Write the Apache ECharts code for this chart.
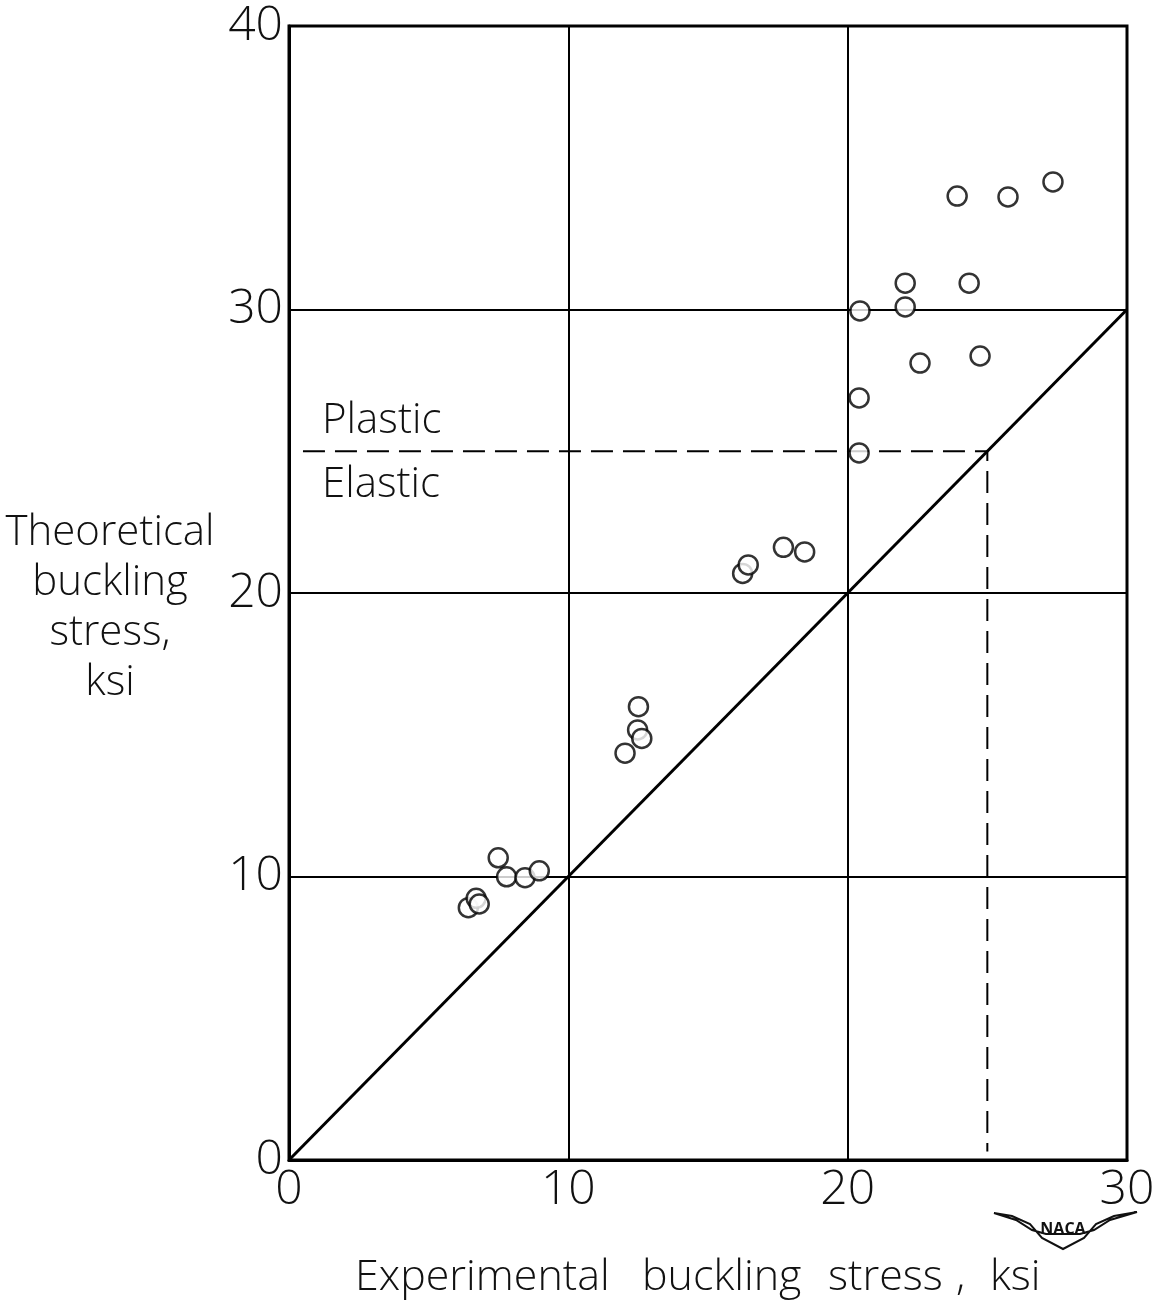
<!DOCTYPE html>
<html>
<head>
<meta charset="utf-8">
<script src="https://cdn.jsdelivr.net/npm/echarts@6/dist/echarts.min.js"></script>
<style>
  html, body { margin: 0; padding: 0; background: #fff; }
  #chart { width: 1152px; height: 1316px; }
</style>
</head>
<body>
<div id="chart"></div>
<script>
// experimental vs theoretical buckling stress, ksi
const expStress = [
  6.42, 6.70, 6.81, 7.49, 7.79, 8.45, 8.96,
  12.03, 12.48, 12.51, 12.63,
  16.24, 16.44, 17.70, 18.46,
  20.41, 20.41, 20.44, 22.06, 22.06, 22.59, 23.92, 24.35, 24.74, 25.74, 27.35
]
const theoStress = [
  8.90, 9.23, 9.03, 10.66, 9.99, 9.96, 10.20,
  14.35, 15.17, 15.99, 14.87,
  20.69, 20.99, 21.61, 21.45,
  24.94, 26.88, 29.95, 30.09, 30.93, 28.11, 34.00, 30.93, 28.36, 33.97, 34.50
]
const equalLine = [[0, 0], [30, 30]]
const limitLine = [[0.5, 25], [25, 25], [25, 0.3]]
const xTicks = [0, 10, 20, 30]
const yTicks = [0, 10, 20, 30, 40]

const font = "'Open Sans', 'DejaVu Sans', sans-serif"

const chart = echarts.init(document.getElementById('chart'))

// x title words are spaced out like the hand lettering
const xTitleWords = [['Experimental', 355], ['buckling', 642], ['stress', 828], [',', 956], ['ksi', 990]]

const option = {
  backgroundColor: '#fff',
  animation: false,
  grid: { left: 289, right: 25, top: 26, bottom: 156, outerBoundsMode: 'none', containLabel: false },
  xAxis: {
    type: 'value', min: 0, max: 30, interval: 10,
    axisLine: { show: true, lineStyle: { color: '#000', width: 3 } },
    axisTick: { show: false },
    axisLabel: {
      color: '#111', fontSize: 48, fontFamily: font, fontWeight: 300, margin: 6,
      formatter: v => xTicks.includes(v) ? String(v) : ''
    },
    splitLine: { show: true, lineStyle: { color: '#000', width: 2 } }
  },
  yAxis: {
    type: 'value', min: 0, max: 40, interval: 10,
    axisLine: { show: true, lineStyle: { color: '#000', width: 3 } },
    axisTick: { show: false },
    axisLabel: {
      color: '#111', fontSize: 48, fontFamily: font, fontWeight: 300, margin: 6,
      formatter: v => yTicks.includes(v) ? String(v) : ''
    },
    splitLine: { show: true, lineStyle: { color: '#000', width: 2 } }
  },
  graphic: [
    { type: 'rect', shape: { x: 289, y: 26, width: 838, height: 1134 },
      style: { fill: 'none', stroke: '#000', lineWidth: 3 }, z: 0 },
    { type: 'text', left: 322, top: 400,
      style: { text: 'Plastic', fontSize: 42, fontFamily: font, fontWeight: 300, fill: '#111' } },
    { type: 'text', left: 322, top: 464,
      style: { text: 'Elastic', fontSize: 42, fontFamily: font, fontWeight: 300, fill: '#111' } },
    { type: 'text', x: 110, y: 508,
      style: { text: 'Theoretical\nbuckling\nstress,\nksi', fontSize: 42, lineHeight: 50,
        fontFamily: font, fontWeight: 300, fill: '#111', align: 'center' } }
  ].concat(xTitleWords.map(w => ({
    type: 'text', x: w[1], y: 1256,
    style: { text: w[0], fontSize: 43, fontFamily: font, fontWeight: 300, fill: '#111' }
  }))).concat([
    // NACA wing badge
    { type: 'polygon',
      shape: { points: [[994, 1213], [1012, 1216], [1030, 1224], [1042, 1238], [1063, 1249],
        [1084, 1238], [1096, 1224], [1114, 1216], [1137, 1212], [1110, 1220], [1094, 1230],
        [1080, 1234], [1046, 1234], [1032, 1230], [1016, 1220]] },
      style: { fill: 'none', stroke: '#111', lineWidth: 2 } },
    { type: 'text', x: 1063, y: 1221,
      style: { text: 'NACA', fontSize: 16, fontWeight: 'bold', fontFamily: font, fill: '#111', align: 'center' } }
  ]),
  series: [
    {
      type: 'line', data: equalLine, symbol: 'none',
      lineStyle: { color: '#000', width: 3 }, z: 3
    },
    {
      type: 'line', data: limitLine, symbol: 'none',
      lineStyle: { color: '#000', width: 2, type: [22, 10] }, z: 3
    },
    {
      type: 'scatter',
      data: expStress.map((x, i) => [x, theoStress[i]]),
      symbol: 'circle', symbolSize: 19,
      itemStyle: { color: '#fff', borderColor: '#000', borderWidth: 2.5 },
      z: 5
    }
  ]
}

chart.setOption(option)
</script>
</body>
</html>
